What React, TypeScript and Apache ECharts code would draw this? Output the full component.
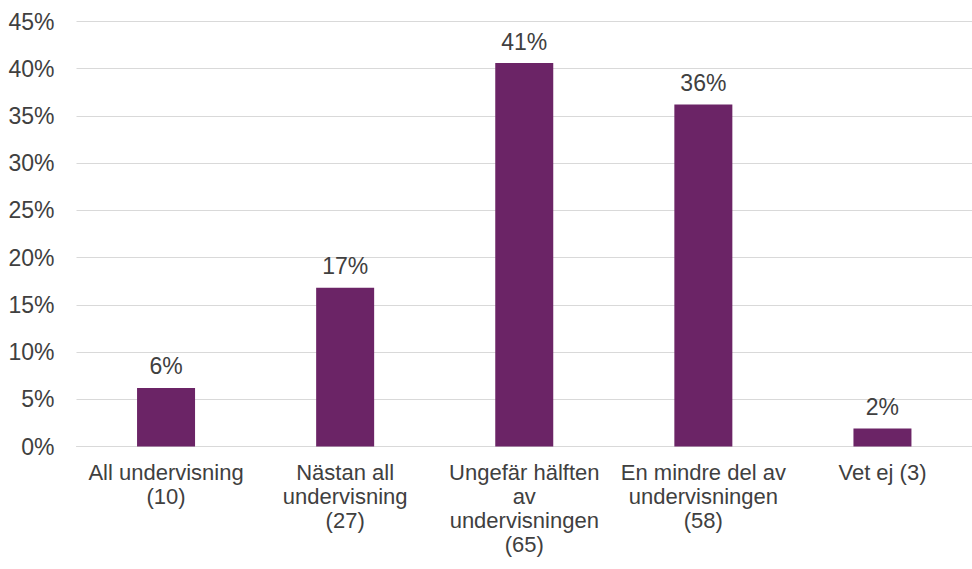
import React, { useEffect, useRef } from "react";
import * as echarts from "echarts";

const categories = [
  "All undervisning\n(10)",
  "Nästan all\nundervisning\n(27)",
  "Ungefär hälften\nav\nundervisningen\n(65)",
  "En mindre del av\nundervisningen\n(58)",
  "Vet ej (3)",
];
const values = [6.2, 16.8, 40.6, 36.2, 1.9];
const valueLabels = ["6%", "17%", "41%", "36%", "2%"];

const FONT = "Liberation Sans, Arial, sans-serif";

export default function App() {
  const ref = useRef<HTMLDivElement>(null);
  useEffect(() => {
    const chart = echarts.init(ref.current!, null, { renderer: "svg" });
    chart.setOption({
      animation: false,
      backgroundColor: "#ffffff",
      grid: { left: 76.5, width: 905, top: 21.5, bottom: 122.5, containLabel: false },
      xAxis: {
        type: "category",
        data: categories,
        axisLine: { show: true, lineStyle: { color: "#d9d9d9", width: 1 } },
        axisTick: { show: false },
        axisLabel: {
          interval: 0,
          color: "#404040",
          fontFamily: FONT,
          fontSize: 22,
          lineHeight: 24,
          margin: 14,
        },
      },
      yAxis: {
        type: "value",
        min: 0,
        max: 45,
        interval: 5,
        axisLine: { show: false },
        axisTick: { show: false },
        splitLine: { lineStyle: { color: "#d9d9d9", width: 1 } },
        axisLabel: {
          formatter: "{value}%",
          color: "#404040",
          fontFamily: FONT,
          fontSize: 23,
          margin: 22,
        },
      },
      series: [
        {
          type: "bar",
          data: values,
          barWidth: 58,
          itemStyle: { color: "#6b2466" },
          label: {
            show: true,
            position: "top",
            distance: 10,
            color: "#404040",
            fontFamily: FONT,
            fontSize: 23,
            formatter: (p: any) => valueLabels[p.dataIndex],
          },
        },
      ],
    });
    return () => chart.dispose();
  }, []);
  return (
    <div
      ref={ref}
      style={{ position: "fixed", left: 0, top: 0, width: 972, height: 569 }}
    />
  );
}
